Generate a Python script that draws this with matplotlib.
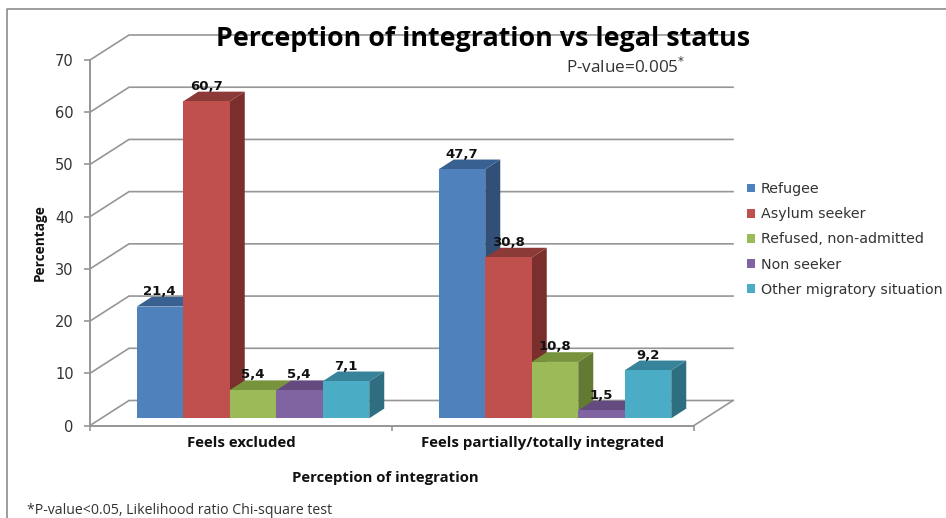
import matplotlib
matplotlib.use("Agg")
import matplotlib.pyplot as plt
from matplotlib.lines import Line2D

categories = ["Feels excluded", "Feels partially/totally integrated"]
series_names = ["Refugee", "Asylum seeker", "Refused, non-admitted", "Non seeker", "Other migratory situation"]
refugee = [21.4, 47.7]
asylum_seeker = [60.7, 30.8]
refused = [5.4, 10.8]
non_seeker = [5.4, 1.5]
other = [7.1, 9.2]
y_ticks = [0, 10, 20, 30, 40, 50, 60, 70]

front_colors = ["#4F81BD", "#C0504D", "#9BBB59", "#8064A2", "#4BACC6"]
top_colors = ["#386192", "#8B3A38", "#77933C", "#644B7F", "#37839A"]
side_colors = ["#324F78", "#7A2F2D", "#637A33", "#533E6B", "#2F6E80"]
GRID = "#969696"
TXT = "#333333"

W, H = 946, 518
fig = plt.figure(figsize=(W / 100, H / 100), dpi=100, facecolor="white")
ax = fig.add_axes([90 / W, 1 - 425.5 / H, 604 / W, 365.5 / H])
ax.set_xlim(-0.5, 1.5)
ax.set_ylim(0, 70)
ax.patch.set_visible(False)
PX = 2 / 604           # category units per pixel
VL = 70 / 365.5        # value units per pixel
wall_dx, wall_dy = 39 * PX, 25 * VL
bar_dx, bar_dy = 15 * PX, 9.7 * VL
base_dx, base_dy = 12 * PX, 7.2 * VL
bw = 46.5 * PX

for v in y_ticks:
    ax.plot([-0.5, -0.5 + wall_dx, 1.5 + wall_dx], [v, v + wall_dy, v + wall_dy],
            color=GRID, lw=1.2, clip_on=False, zorder=1, solid_joinstyle="miter")
ax.plot([1.5, 1.5 + wall_dx], [0, wall_dy], color=GRID, lw=1.2, clip_on=False, zorder=1)

all_series = [refugee, asylum_seeker, refused, non_seeker, other]
handles = []
for i, vals in enumerate(all_series):
    z = 3 + i
    xs = [c + base_dx + (i - 2) * bw for c in range(len(categories))]
    bars = ax.bar(xs, vals, width=bw, bottom=base_dy, color=front_colors[i], label=series_names[i],
                  zorder=z + 0.3, clip_on=False, linewidth=0)
    handles.append(bars)
    for x, v in zip(xs, vals):
        l, r, b, t = x - bw / 2, x + bw / 2, base_dy, base_dy + v
        ax.fill([r, r + bar_dx, r + bar_dx, r], [b, b + bar_dy, t + bar_dy, t],
                color=side_colors[i], lw=0, zorder=z, clip_on=False)
        ax.fill([l, r, r + bar_dx, l + bar_dx], [t, t, t + bar_dy, t + bar_dy],
                color=top_colors[i], lw=0, zorder=z, clip_on=False)
        ax.annotate(f"{v:.1f}".replace(".", ","), (x, t), xytext=(-0.3, 10.9), textcoords="offset points",
                    ha="center", va="center", fontsize=9.5, fontweight="bold", color="#111111",
                    family="DejaVu Sans", zorder=20, annotation_clip=False)

for s in ["top", "right"]:
    ax.spines[s].set_visible(False)
for s in ["left", "bottom"]:
    ax.spines[s].set_color(GRID)
    ax.spines[s].set_linewidth(1.4)

ax.set_yticks(y_ticks)
ax.tick_params(axis="y", length=4.5, width=1.2, color=GRID, labelsize=10.5, labelcolor=TXT, pad=7.3)
ax.set_xticks([-0.5, 0.5, 1.5])
ax.set_xticklabels([])
ax.tick_params(axis="x", which="major", length=3.5, width=1.2, color=GRID)
ax.set_xticks([0, 1], minor=True)
ax.set_xticklabels(categories, minor=True, fontsize=10.85, fontweight="bold", family="Open Sans", color="#111111")
ax.tick_params(axis="x", which="minor", length=0, pad=7.5)

ax.set_xlabel("Perception of integration", fontsize=10.75, fontweight="bold", family="Open Sans", color="#111111")
ax.xaxis.set_label_coords((385 - 90) / 604, (425.5 - 478) / 365.5)
ax.xaxis.label.set_va("center")
ax.set_ylabel("Percentage", fontsize=9.8, fontweight="bold", family=["Liberation Sans Narrow", "Open Sans"], color="#111111")
ax.yaxis.set_label_coords((40 - 90) / 604, (425.5 - 243) / 365.5)
ax.yaxis.label.set_va("center")

ax.set_title("Perception of integration vs legal status", fontsize=19.4, fontweight="bold", family="Open Sans",
             x=(483 - 90) / 604, y=(425.5 - 39) / 365.5, va="center", pad=0, color="black", zorder=30)

fig.text(566 / W, 1 - 67 / H, "P-value=0.005$^{*}$", fontsize=12.3, family="Open Sans", color=TXT, va="center")
fig.text(27 / W, 1 - 510 / H, "*P-value<0.05, Likelihood ratio Chi-square test", fontsize=10.2, family="Open Sans",
         color=TXT, va="center")

leg = ax.legend(handles=handles, loc="upper left", bbox_to_anchor=(747 / W, 1 - 182 / H),
                bbox_transform=fig.transFigure, frameon=False,
                prop={"family": "DejaVu Sans", "size": 10.3}, borderpad=0, borderaxespad=0,
                handlelength=0.58, handleheight=0.58, handletextpad=0.37, labelspacing=0.785)
for t in leg.get_texts():
    t.set_color(TXT)

# outer frame of the picture
fig.add_artist(Line2D([7 / W, 7 / W, 1], [0, 1 - 8.5 / H, 1 - 8.5 / H], color="#8C8C8C", lw=1.2))

fig.savefig("out.png", dpi=100)
